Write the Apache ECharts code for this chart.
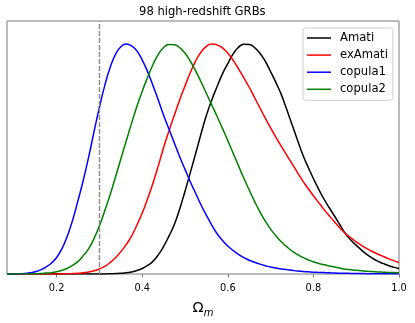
<!DOCTYPE html>
<html>
<head>
<meta charset="utf-8">
<script src="https://cdn.jsdelivr.net/npm/echarts@6.0.0/dist/echarts.min.js"></script>
<style>
  html, body { margin: 0; padding: 0; background: #fff; }
  #chart { width: 415px; height: 323px; }
</style>
</head>
<body>
<div id="chart"></div>
<script>
// Omega_m grid
let xs = [0.084,
    0.1, 0.1125, 0.125, 0.1375, 0.15, 0.1625, 0.175, 0.1875,
    0.2, 0.2125, 0.225, 0.2375, 0.25, 0.2625, 0.275, 0.2875,
    0.3, 0.3125, 0.325, 0.3375, 0.35, 0.3625, 0.375, 0.3875,
    0.4, 0.4125, 0.425, 0.4375, 0.45, 0.4625, 0.475, 0.4875,
    0.5, 0.5125, 0.525, 0.5375, 0.55, 0.5625, 0.575, 0.5875,
    0.6, 0.6125, 0.625, 0.6375, 0.65, 0.6625, 0.675, 0.6875,
    0.7, 0.7125, 0.725, 0.7375, 0.75, 0.7625, 0.775, 0.7875,
    0.8, 0.8125, 0.825, 0.8375, 0.85, 0.8625, 0.875, 0.8875,
    0.9, 0.9125, 0.925, 0.9375, 0.95, 0.9625, 0.975, 0.9875,
    1.0];

// 归一化后的概率分布
let amati = [0,
    0, 0, 0, 0, 0, 0, 0, 0,
    0, 0, 0, 0, 0, 0, 0, 0,
    0, 0.0005, 0.001, 0.002, 0.003, 0.005, 0.009, 0.015,
    0.024, 0.037, 0.055, 0.083, 0.12, 0.165, 0.215, 0.283,
    0.36, 0.442, 0.525, 0.61, 0.69, 0.757, 0.815, 0.87,
    0.915, 0.957, 0.986, 0.999, 0.998, 0.984, 0.96, 0.925,
    0.88, 0.832, 0.78, 0.716, 0.65, 0.584, 0.52, 0.465,
    0.415, 0.368, 0.325, 0.287, 0.25, 0.212, 0.175, 0.148,
    0.125, 0.104, 0.085, 0.069, 0.056, 0.046, 0.037, 0.03,
    0.024];
let exAmati = [0,
    0, 0, 0, 0, 0, 0, 0, 0,
    0, 0.0005, 0.001, 0.002, 0.003, 0.005, 0.009, 0.014,
    0.022, 0.033, 0.05, 0.071, 0.097, 0.128, 0.165, 0.212,
    0.265, 0.327, 0.395, 0.47, 0.55, 0.622, 0.69, 0.757,
    0.818, 0.876, 0.927, 0.965, 0.99, 1.0, 0.996, 0.983,
    0.96, 0.929, 0.892, 0.853, 0.812, 0.767, 0.722, 0.678,
    0.635, 0.594, 0.555, 0.517, 0.48, 0.442, 0.405, 0.372,
    0.34, 0.31, 0.28, 0.252, 0.225, 0.199, 0.176, 0.157,
    0.14, 0.124, 0.11, 0.098, 0.087, 0.077, 0.067, 0.058,
    0.05];
let copula1 = [0,
    0, 0.001, 0.002, 0.005, 0.01, 0.018, 0.03, 0.047,
    0.072, 0.11, 0.165, 0.235, 0.32, 0.41, 0.51, 0.62,
    0.725, 0.82, 0.898, 0.955, 0.988, 1.0, 0.992, 0.97,
    0.93, 0.88, 0.82, 0.757, 0.69, 0.63, 0.57, 0.51,
    0.455, 0.4, 0.35, 0.3, 0.255, 0.213, 0.175, 0.146,
    0.122, 0.102, 0.085, 0.071, 0.06, 0.051, 0.043, 0.036,
    0.03, 0.026, 0.022, 0.019, 0.016, 0.013, 0.011, 0.0095,
    0.008, 0.007, 0.006, 0.005, 0.004, 0.0035, 0.003, 0.0025,
    0.002, 0.0018, 0.0015, 0.0012, 0.001, 0.0009, 0.0007, 0.0006,
    0.0005];
let copula2 = [0,
    0, 0, 0, 0.0005, 0.001, 0.002, 0.004, 0.006,
    0.01, 0.016, 0.025, 0.038, 0.055, 0.08, 0.11, 0.155,
    0.21, 0.275, 0.345, 0.422, 0.5, 0.578, 0.655, 0.728,
    0.795, 0.855, 0.91, 0.955, 0.985, 0.998, 0.997, 0.984,
    0.96, 0.925, 0.882, 0.835, 0.785, 0.735, 0.685, 0.633,
    0.58, 0.525, 0.47, 0.416, 0.365, 0.316, 0.27, 0.23,
    0.195, 0.166, 0.14, 0.119, 0.1, 0.085, 0.072, 0.062,
    0.053, 0.046, 0.04, 0.035, 0.03, 0.025, 0.021, 0.018,
    0.016, 0.014, 0.012, 0.0105, 0.009, 0.008, 0.007, 0.006,
    0.005];

let xTicks = [0.2, 0.4, 0.6, 0.8, 1.0];
let refOmega = 0.3;

let names = ['Amati', 'exAmati', 'copula1', 'copula2'];
let colors = ['#000000', '#ff0000', '#0000ff', '#008000'];
let values = [amati, exAmati, copula1, copula2];

let font = 'DejaVu Sans';
let frameColor = '#7a7a7a';

let series = [];
for (let i = 0; i < names.length; i++) {
    series.push({
        name: names[i],
        type: 'line',
        smooth: true,
        symbol: 'none',
        data: xs.map(function (x, j) { return [x, values[i][j]]; }),
        lineStyle: { color: colors[i], width: 1.5 },
        itemStyle: { color: colors[i] }
    });
}
// 竖直虚线 Omega_m = 0.3
series[0].markLine = {
    silent: true,
    symbol: 'none',
    label: { show: false },
    lineStyle: { color: '#8a8a8a', type: [5, 2], width: 1.4 },
    data: [{ xAxis: refOmega }]
};

let chart = echarts.init(document.getElementById('chart'));
chart.setOption({
    animation: false,
    title: {
        text: '98 high-redshift GRBs',
        left: 139,
        top: 6,
        padding: 0,
        textStyle: { fontFamily: font, fontSize: 11.6, fontWeight: 'normal', color: '#000' }
    },
    legend: {
        data: names,
        orient: 'vertical',
        left: 303,
        top: 28,
        width: 90,
        padding: [3, 5, 4, 4],
        icon: 'rect',
        itemWidth: 24,
        itemHeight: 1.5,
        itemGap: 3.1,
        backgroundColor: 'rgba(255,255,255,0.8)',
        borderColor: '#cccccc',
        borderWidth: 1,
        borderRadius: 3,
        textStyle: { fontFamily: font, fontSize: 11.6, lineHeight: 14, color: '#000', padding: [0, 0, 0, 4] }
    },
    grid: {
        left: 7,
        right: 16,
        top: 21,
        bottom: 46,
        show: true,
        borderColor: frameColor,
        borderWidth: 1
    },
    xAxis: {
        type: 'value',
        min: 0.084,
        max: 1.0,
        name: '{a|Ω}{s|m}',
        nameLocation: 'middle',
        nameGap: 25,
        nameTextStyle: {
            rich: {
                a: { fontFamily: font, fontSize: 14.5, color: '#000' },
                s: { fontFamily: font, fontSize: 10, fontStyle: 'italic', color: '#000', padding: [9, 0, 0, 0] }
            }
        },
        axisLine: { show: false },
        splitLine: { show: false },
        axisTick: {
            show: true,
            inside: false,
            length: 3.5,
            customValues: xTicks,
            lineStyle: { color: frameColor, width: 1 }
        },
        axisLabel: {
            customValues: xTicks,
            margin: 9,
            fontFamily: font,
            fontSize: 9.8,
            color: '#000',
            formatter: function (v) { return v.toFixed(1); }
        }
    },
    yAxis: {
        type: 'value',
        min: 0,
        max: 1.1,
        axisLine: { show: false },
        axisTick: { show: false },
        axisLabel: { show: false },
        splitLine: { show: false }
    },
    series: series
});
</script>
</body>
</html>
